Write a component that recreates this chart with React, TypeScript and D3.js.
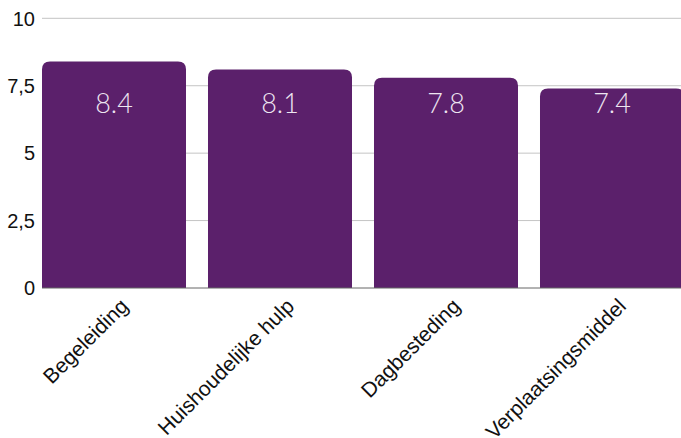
import React, { useEffect, useRef } from "react";
import * as d3 from "d3";

const categories = ["Begeleiding", "Huishoudelijke hulp", "Dagbesteding", "Verplaatsingsmiddel"];
const scores = [8.4, 8.1, 7.8, 7.4];
const yTicks = [0, 2.5, 5, 7.5, 10];

const W = 681;
const H = 438;

export default function App() {
  const ref = useRef<SVGSVGElement>(null);

  useEffect(() => {
    const svg = d3.select(ref.current);
    svg.selectAll("*").remove();

    const left = 42, right = 684, top = 18.3, bottom = 288;

    const x = d3.scaleBand().domain(categories).range([left, right]).paddingInner(0.1325).paddingOuter(0);
    const y = d3.scaleLinear().domain([0, 10]).range([bottom, top]);

    // gridlines
    svg
      .append("g")
      .selectAll("line")
      .data(yTicks.filter((t) => t > 0))
      .join("line")
      .attr("x1", left)
      .attr("x2", W)
      .attr("y1", (d) => y(d))
      .attr("y2", (d) => y(d))
      .attr("stroke", "#c4c4c4")
      .attr("stroke-width", 1);

    // y tick labels
    svg
      .append("g")
      .selectAll("text")
      .data(yTicks)
      .join("text")
      .attr("x", 35)
      .attr("y", (d) => y(d))
      .attr("dy", "0.36em")
      .attr("text-anchor", "end")
      .style("font-family", "'Liberation Sans', Arial, sans-serif")
      .style("font-size", "20px")
      .attr("fill", "#111")
      .text((d) => String(d).replace(".", ","));

    // bars with rounded top
    const r = 8;
    const bar = (d: number, i: number) => {
      const x0 = x(categories[i])!;
      const w = x.bandwidth();
      const y0 = y(d);
      const y1 = y(0);
      return `M${x0},${y1}V${y0 + r}Q${x0},${y0} ${x0 + r},${y0}H${x0 + w - r}Q${x0 + w},${y0} ${x0 + w},${y0 + r}V${y1}Z`;
    };
    svg
      .append("g")
      .selectAll("path")
      .data(scores)
      .join("path")
      .attr("d", (d, i) => bar(d, i))
      .attr("fill", "#5b206b");

    // baseline
    svg
      .append("line")
      .attr("x1", left)
      .attr("x2", W)
      .attr("y1", y(0))
      .attr("y2", y(0))
      .attr("stroke", "#666")
      .attr("stroke-width", 1);

    // value labels
    svg
      .append("g")
      .selectAll("text")
      .data(scores)
      .join("text")
      .attr("x", (d, i) => x(categories[i])! + x.bandwidth() / 2)
      .attr("y", y(10) + 95)
      .attr("text-anchor", "middle")
      .style("font-family", "Lato, 'Open Sans', sans-serif")
      .style("font-weight", 300)
      .style("font-size", "27px")
      .attr("fill", "#eee6f1")
      .text((d) => d.toFixed(1));

    // x labels
    svg
      .append("g")
      .selectAll("text")
      .data(categories)
      .join("text")
      .attr("transform", (d) => `translate(${x(d)! + x.bandwidth() / 2 + 5},${y(0) + 9}) rotate(-45)`)
      .attr("dy", "0.7em")
      .attr("text-anchor", "end")
      .style("font-family", "'Liberation Sans', Arial, sans-serif")
      .style("font-size", "21px")
      .attr("fill", "#111")
      .text((d) => d);
  }, []);

  return (
    <svg
      ref={ref}
      width={W}
      height={H}
      style={{ position: "absolute", left: 0, top: 0, background: "#fff" }}
    />
  );
}
